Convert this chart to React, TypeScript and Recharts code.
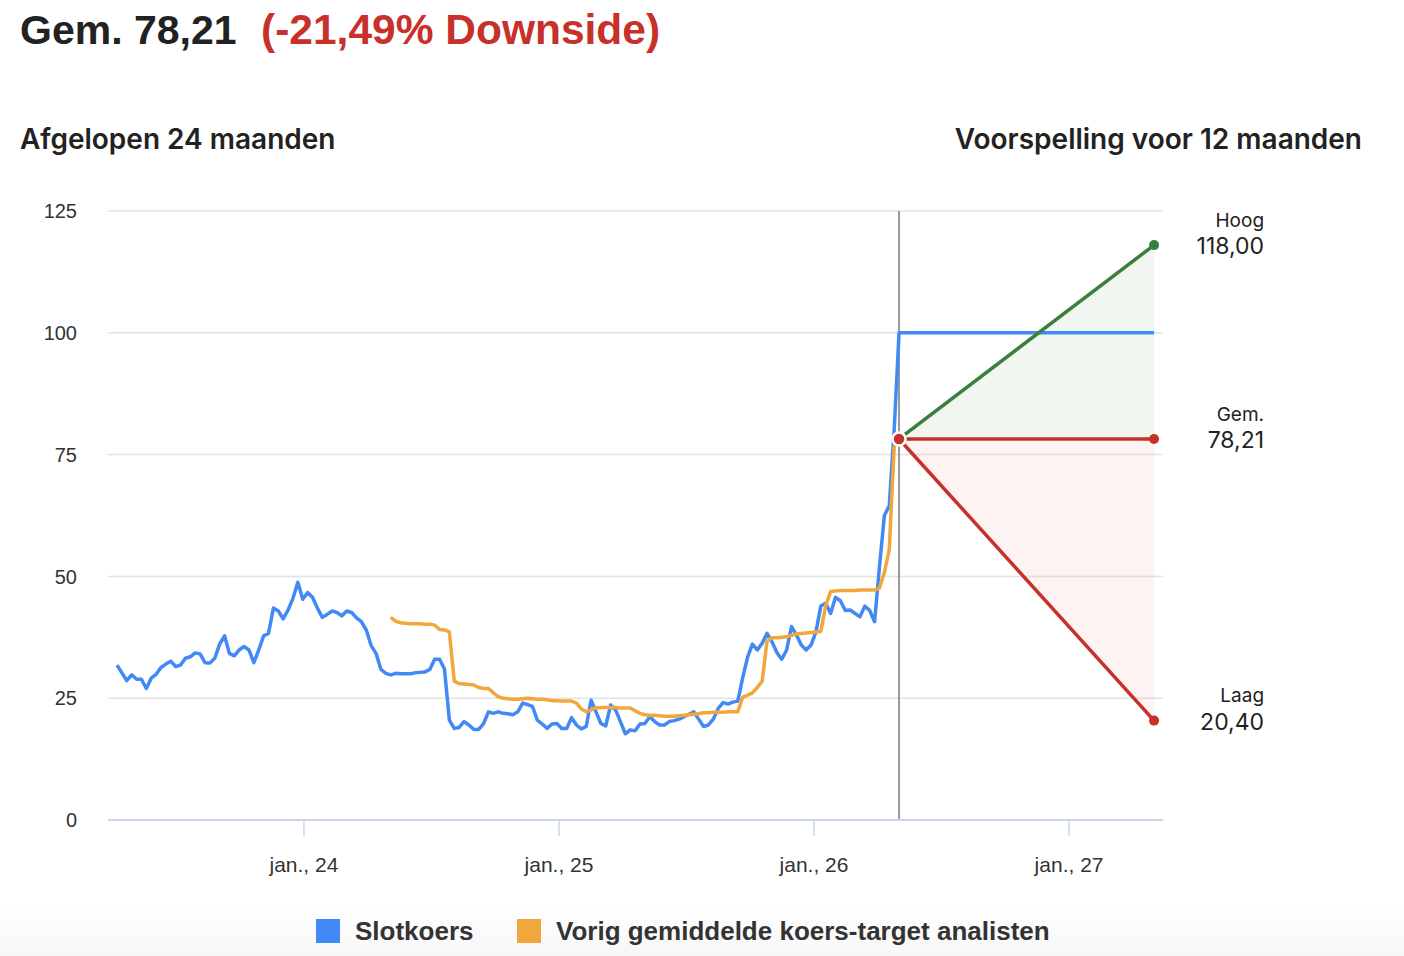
import React from "react";
import {
  ComposedChart,
  Line,
  Area,
  XAxis,
  YAxis,
  CartesianGrid,
  ReferenceLine,
  LabelList,
} from "recharts";

// Weekly closing price (Slotkoers), oldest first; last point is the current week
const priceWeekly: number[] = [
  31.8, 30.2, 28.6, 29.8, 28.9, 28.9, 27.0, 29.1, 29.9, 31.3,
  32.0, 32.6, 31.5, 31.8, 33.2, 33.5, 34.3, 34.1, 32.3, 32.2,
  33.2, 36.1, 37.8, 34.2, 33.7, 34.9, 35.6, 34.9, 32.3, 34.9,
  37.8, 38.3, 43.5, 42.9, 41.3, 43.1, 45.5, 48.8, 45.3, 46.7,
  45.7, 43.5, 41.6, 42.2, 42.9, 42.6, 41.9, 42.9, 42.6, 41.5,
  40.7, 39.0, 35.8, 34.2, 30.9, 30.1, 29.8, 30.1, 30.0, 30.0,
  30.0, 30.2, 30.3, 30.4, 30.9, 33.0, 33.0, 31.0, 20.5, 18.8,
  19.0, 20.2, 19.5, 18.6, 18.6, 19.8, 22.2, 21.9, 22.2, 21.9,
  21.8, 21.6, 22.2, 24.0, 23.7, 23.3, 20.5, 19.7, 18.8, 19.7,
  19.8, 18.8, 18.8, 21.0, 19.5, 18.7, 19.2, 24.6, 22.2, 19.8,
  19.3, 23.6, 22.6, 20.2, 17.7, 18.5, 18.3, 19.7, 19.8, 21.2,
  20.2, 19.5, 19.5, 20.2, 20.4, 20.7, 21.2, 21.7, 22.2, 20.7,
  19.2, 19.5, 20.7, 22.9, 24.1, 23.8, 24.2, 24.4, 29.1, 33.4,
  36.1, 34.9, 36.3, 38.3, 36.6, 34.4, 33.0, 34.9, 39.7, 38.0,
  35.9, 34.9, 35.9, 38.6, 43.9, 44.5, 42.4, 45.7, 45.0, 43.0,
  43.1, 42.4, 41.7, 43.9, 43.0, 40.7, 52.0, 62.5, 64.5, 80.0,
  100.0,
];

// Previous average analyst price target, weekly, starting at week index 56
const targetStartIndex = 56;
const targetWeekly: number[] = [
  41.6, 40.8, 40.5, 40.4, 40.3, 40.3, 40.3, 40.2, 40.2, 40.0,
  39.1, 39.0, 38.6, 28.5, 28.0, 27.9, 27.8, 27.7, 27.2, 27.0,
  27.0, 26.1, 25.3, 25.0, 24.9, 24.8, 24.8, 24.9, 25.0, 24.9,
  24.8, 24.8, 24.7, 24.5, 24.5, 24.4, 24.4, 24.4, 24.0, 22.8,
  22.2, 22.6, 23.0, 23.1, 23.1, 23.1, 23.1, 23.0, 23.0, 23.0,
  22.4, 21.9, 21.6, 21.5, 21.5, 21.4, 21.3, 21.3, 21.3, 21.4,
  21.5, 21.6, 21.7, 21.8, 22.0, 22.0, 22.1, 22.1, 22.1, 22.2,
  22.2, 22.2, 25.2, 25.6, 26.1, 27.2, 28.5, 36.8, 37.4, 37.4,
  37.5, 37.6, 37.9, 38.2, 38.3, 38.4, 38.5, 38.6, 38.7, 44.0,
  46.9, 47.0, 47.1, 47.1, 47.1, 47.1, 47.2, 47.2, 47.2, 47.2,
  47.6, 50.8, 55.5, 76.5, 78.21,
];

// Forecast (12 months)
const forecastHigh = 118.0;
const forecastAvg = 78.21;
const forecastLow = 20.4;
const forecastEndPrice = 100.0;

// Time axis in months since jan. 2023
const nowT = 40; // May 2026
const forecastEndT = 52; // May 2027
const weekStep = 7 / 30.4375;
const xDomain: [number, number] = [2.78, 52.42];
const xTicks = [12, 24, 36, 48];
const xTickLabels = ["jan., 24", "jan., 25", "jan., 26", "jan., 27"];
const yTicks = [0, 25, 50, 75, 100, 125];

type Row = {
  t: number;
  price?: number | null;
  target?: number | null;
  high?: number;
  avg?: number;
  low?: number;
  greenBand?: [number, number];
  redBand?: [number, number];
};

const rows: Row[] = priceWeekly.map((p, i) => ({
  t: nowT - (priceWeekly.length - 1 - i) * weekStep,
  price: p,
  target: i >= targetStartIndex ? targetWeekly[i - targetStartIndex] : null,
}));
const startIdx = rows.length - 1;
rows[startIdx] = {
  ...rows[startIdx],
  high: forecastAvg,
  avg: forecastAvg,
  low: forecastAvg,
  greenBand: [forecastAvg, forecastAvg],
  redBand: [forecastAvg, forecastAvg],
};
rows.push({
  t: forecastEndT,
  price: forecastEndPrice,
  target: null,
  high: forecastHigh,
  avg: forecastAvg,
  low: forecastLow,
  greenBand: [forecastAvg, forecastHigh],
  redBand: [forecastLow, forecastAvg],
});
const endIdx = rows.length - 1;

const BLUE = "#4189f5";
const ORANGE = "#f1a73b";
const GREEN = "#3a7f3d";
const RED = "#c8302a";

const makeDot = (color: string, withStart: boolean) => (props: any) => {
  const { cx, cy, index, value } = props;
  if (value == null || cx == null || cy == null) return <g key={`d-${index}`} />;
  if (index === endIdx) {
    return <circle key={`d-${index}`} cx={cx} cy={cy} r={5} fill={color} stroke="none" />;
  }
  if (withStart && index === startIdx) {
    return (
      <circle key={`d-${index}`} cx={cx} cy={cy} r={6.5} fill={RED} stroke="#fff" strokeWidth={2.5} />
    );
  }
  return <g key={`d-${index}`} />;
};

const endLabel = (name: string) => (props: any) => {
  const { index, value } = props;
  const x = props.x ?? props.viewBox?.x;
  const y = props.y ?? props.viewBox?.y;
  if (index !== endIdx || value == null || x == null || y == null) return null;
  const rx = x + 110;
  return (
    <g>
      <text
        x={rx}
        y={y - 25}
        dy="0.35em"
        textAnchor="end"
        fontFamily="Inter, 'Noto Sans', sans-serif"
        fontSize={19}
        fill="#222"
      >
        {name}
      </text>
      <text
        x={rx}
        y={y + 1}
        dy="0.35em"
        textAnchor="end"
        fontFamily="Inter, 'Noto Sans', sans-serif"
        fontSize={23}
        fill="#222"
      >
        {Number(value).toFixed(2).replace(".", ",")}
      </text>
    </g>
  );
};

const legendItems = [
  { label: "Slotkoers", color: BLUE, x: 316 },
  { label: "Vorig gemiddelde koers-target analisten", color: ORANGE, x: 517 },
];

export default function App() {
  return (
    <div
      style={{
        position: "absolute",
        left: 0,
        top: 0,
        width: 1404,
        height: 956,
        background: "linear-gradient(to bottom, #ffffff 0px, #ffffff 900px, #f7f7f7 956px)",
        overflow: "hidden",
        fontFamily: "'Liberation Sans', Arial, sans-serif",
      }}
    >
      <div
        style={{
          position: "absolute",
          left: 20,
          top: 10,
          fontSize: 41,
          lineHeight: "41px",
          fontWeight: 700,
          color: "#222",
          whiteSpace: "pre",
        }}
      >
        Gem. 78,21
      </div>
      <div
        style={{
          position: "absolute",
          left: 261,
          top: 9,
          fontSize: 42.5,
          lineHeight: "42px",
          fontWeight: 700,
          color: RED,
          whiteSpace: "pre",
        }}
      >
        (-21,49% Downside)
      </div>
      <div
        style={{
          position: "absolute",
          left: 20,
          top: 125,
          fontFamily: "Inter, sans-serif",
          fontSize: 28,
          lineHeight: "28px",
          fontWeight: 600,
          color: "#222",
          whiteSpace: "pre",
        }}
      >
        Afgelopen 24 maanden
      </div>
      <div
        style={{
          position: "absolute",
          right: 1404 - 1362,
          top: 125,
          fontFamily: "Inter, sans-serif",
          fontSize: 28,
          lineHeight: "28px",
          fontWeight: 600,
          color: "#222",
          whiteSpace: "pre",
          textAlign: "right",
        }}
      >
        Voorspelling voor 12 maanden
      </div>

      <div style={{ position: "absolute", left: 0, top: 0 }}>
        <ComposedChart
          width={1404}
          height={956}
          data={rows}
          margin={{ top: 211, right: 241, bottom: 76, left: 48 }}
        >
          <CartesianGrid horizontal vertical={false} stroke="#e3e3e3" strokeWidth={1.5} />
          <XAxis
            type="number"
            dataKey="t"
            domain={xDomain}
            ticks={xTicks}
            tickFormatter={(v: number) => xTickLabels[xTicks.indexOf(v)] ?? ""}
            height={60}
            axisLine={{ stroke: "#ccd6eb", strokeWidth: 2 }}
            tickLine={{ stroke: "#ccd6eb", strokeWidth: 1.5 }}
            tickSize={16}
            tickMargin={21}
            tick={{ fontSize: 21, fill: "#333", fontFamily: "'Liberation Sans', Arial, sans-serif" }}
            allowDataOverflow
          />
          <YAxis
            type="number"
            domain={[0, 125]}
            ticks={yTicks}
            width={60}
            axisLine={false}
            tickLine={false}
            tickSize={0}
            tickMargin={31}
            tick={{ fontSize: 20, fill: "#333", fontFamily: "'Liberation Sans', Arial, sans-serif" }}
          />
          <Area
            dataKey="greenBand"
            type="linear"
            stroke="none"
            fill={GREEN}
            fillOpacity={0.07}
            isAnimationActive={false}
            connectNulls={false}
          />
          <Area
            dataKey="redBand"
            type="linear"
            stroke="none"
            fill={RED}
            fillOpacity={0.06}
            isAnimationActive={false}
            connectNulls={false}
          />
          <ReferenceLine x={nowT} stroke="#999" strokeWidth={2} />
          <Line
            dataKey="price"
            type="linear"
            stroke={BLUE}
            strokeWidth={3.5}
            dot={false}
            activeDot={false}
            isAnimationActive={false}
            strokeLinejoin="round"
          />
          <Line
            dataKey="target"
            type="linear"
            stroke={ORANGE}
            strokeWidth={3.5}
            dot={false}
            activeDot={false}
            isAnimationActive={false}
            connectNulls={false}
            strokeLinejoin="round"
          />
          <Line
            dataKey="high"
            type="linear"
            stroke={GREEN}
            strokeWidth={3.5}
            dot={makeDot(GREEN, false)}
            activeDot={false}
            isAnimationActive={false}
          >
            <LabelList dataKey="high" content={endLabel("Hoog")} />
          </Line>
          <Line
            dataKey="low"
            type="linear"
            stroke={RED}
            strokeWidth={3.5}
            dot={makeDot(RED, false)}
            activeDot={false}
            isAnimationActive={false}
          >
            <LabelList dataKey="low" content={endLabel("Laag")} />
          </Line>
          <Line
            dataKey="avg"
            type="linear"
            stroke={RED}
            strokeWidth={3.5}
            dot={makeDot(RED, true)}
            activeDot={false}
            isAnimationActive={false}
          >
            <LabelList dataKey="avg" content={endLabel("Gem.")} />
          </Line>
        </ComposedChart>
      </div>

      {legendItems.map((it) => (
        <div
          key={it.label}
          style={{ position: "absolute", left: it.x, top: 918, height: 26, display: "flex", alignItems: "center" }}
        >
          <div style={{ width: 24, height: 24, background: it.color }} />
          <div
            style={{
              marginLeft: 15,
              fontSize: 26,
              lineHeight: "26px",
              fontWeight: 700,
              color: "#333",
              whiteSpace: "pre",
            }}
          >
            {it.label}
          </div>
        </div>
      ))}
    </div>
  );
}
